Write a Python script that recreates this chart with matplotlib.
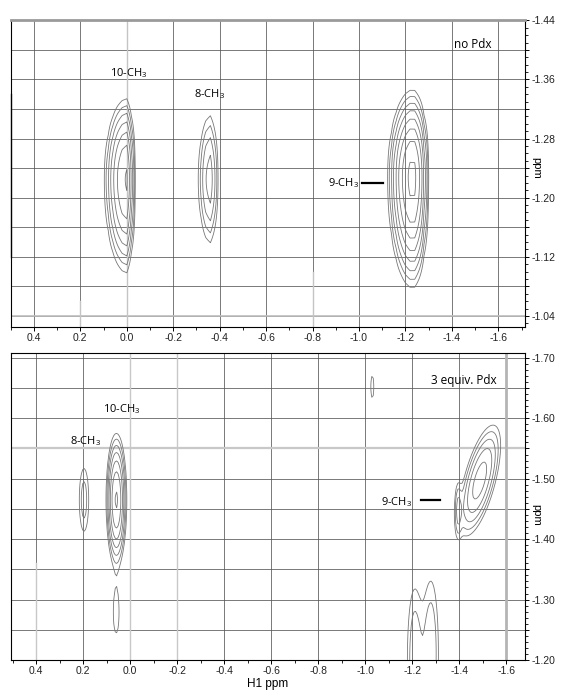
import numpy as np
import matplotlib
matplotlib.use("Agg")
import matplotlib.pyplot as plt
from matplotlib.ticker import MultipleLocator, FuncFormatter

plt.rcParams['font.family'] = ['Liberation Sans', 'DejaVu Sans']
plt.rcParams['mathtext.default'] = 'regular'

# contour levels, geometric like the spectrometer software
levels = [1.0, 1.5, 2.25, 3.375, 5.06, 7.59, 11.39, 17.09, 25.6]

# top panel (no Pdx): peak centre, height and half widths
# sx_pos = width towards +ppm, sy_up = width towards more negative ppm
top_x0 = [0.0, -0.36, -1.232]
top_y0 = [-1.225, -1.225, -1.228]
top_amp = [11.8, 4.13, 19.3]
top_sx_pos = [0.043, 0.030, 0.044]
top_sx_neg = [0.0144, 0.018, 0.028]
top_sy_up = [0.049, 0.051, 0.0485]
top_sy_dn = [0.057, 0.051, 0.0617]
top_shear = [0.0, 0.0, 0.0]

# bottom panel (3 equiv. Pdx)
bot_x0 = [0.059, 0.197, 0.06, -1.03, -0.61, -1.487, -1.395, -1.21, -1.28]
bot_y0 = [-1.465, -1.465, -1.278, -1.652, -1.481, -1.497, -1.45, -1.20, -1.21]
bot_amp = [11.8, 1.84, 1.3, 1.2, 1.03, 6.2, 2.0, 2.1, 2.2]
bot_sx_pos = [0.0198, 0.018, 0.0166, 0.011, 0.006, 0.036, 0.01, 0.025, 0.025]
bot_sx_neg = [0.0198, 0.018, 0.0166, 0.011, 0.006, 0.036, 0.01, 0.025, 0.025]
bot_sy_up = [0.0495, 0.047, 0.046, 0.03, 0.006, 0.048, 0.03, 0.095, 0.095]
bot_sy_dn = [0.0495, 0.047, 0.046, 0.03, 0.006, 0.048, 0.03, 0.095, 0.095]
bot_shear = [0.0, 0.0, 0.0, 0.0, 0.0, 0.62, 0.0, 0.0, 0.0]

# labels
top_labels = ['10-CH$_3$', '8-CH$_3$', '9-CH$_3$']
top_lab_x = [-0.008, -0.358, -0.934]
top_lab_y = [-1.368, -1.340, -1.220]
bot_labels = ['10-CH$_3$', '8-CH$_3$', '9-CH$_3$']
bot_lab_x = [0.038, 0.192, -1.135]
bot_lab_y = [-1.615, -1.563, -1.461]


def surface(X, Y, x0, y0, amp, sxp, sxn, syu, syd, shear):
    Z = np.zeros_like(X)
    for i in range(len(x0)):
        dy = Y - y0[i]
        dx = X - x0[i] - shear[i] * dy
        sx = np.where(dx > 0, sxp[i], sxn[i])
        sy = np.where(dy < 0, syu[i], syd[i])
        Z += amp[i] * np.exp(-0.5 * ((dx / sx) ** 2 + (dy / sy) ** 2))
    return Z


def xfmt(v, pos):
    if abs(v) < 1e-9:
        return '0.0'
    return f'{v:.1f}'


def style_axes(ax, ystep, ylab_every):
    ax.xaxis.set_major_locator(MultipleLocator(0.2))
    ax.xaxis.set_minor_locator(MultipleLocator(0.1))
    ax.xaxis.set_major_formatter(FuncFormatter(xfmt))
    ax.yaxis.set_major_locator(MultipleLocator(ystep))
    ax.yaxis.set_minor_locator(MultipleLocator(0.01))
    ax.yaxis.set_major_formatter(FuncFormatter(
        lambda v, p: f'{v:.2f}' if round(v / ystep) % ylab_every == 0 else ''))
    ax.yaxis.tick_right()
    ax.tick_params(which='major', direction='out', length=3, width=0.7,
                   labelsize=7.5, labelcolor='#222222', pad=1.5)
    ax.tick_params(which='minor', direction='out', length=2, width=0.6)
    ax.grid(True, which='major', color='#555555', lw=0.55)
    ax.set_axisbelow(True)
    for s in ax.spines.values():
        s.set_linewidth(0.8)


fig = plt.figure(figsize=(5.61, 6.90), dpi=100)
W, H = 561, 690
ax1 = fig.add_axes([10.7 / W, 1 - 327 / H, (525 - 10.7) / W, (327 - 20) / H])
ax2 = fig.add_axes([10.7 / W, 1 - 660 / H, (525 - 10.7) / W, (660 - 353) / H])

# ---- top panel (coarse direct dimension, as in the processed spectrum)
xg1 = np.round(np.arange(-1.86, 0.66, 0.02), 3)
yg1 = np.arange(-1.50, -0.98, 0.003)
X1, Y1 = np.meshgrid(xg1, yg1)
Z1 = surface(X1, Y1, top_x0, top_y0, top_amp, top_sx_pos, top_sx_neg,
             top_sy_up, top_sy_dn, top_shear)
ax1.contour(X1, Y1, Z1, levels=levels, colors='#777777', linewidths=0.6, zorder=3)
ax1.set_xlim(0.50, -1.715)
ax1.set_ylim(-1.025, -1.4405)
style_axes(ax1, 0.04, 2)
ax1.spines['top'].set_color('#9a9a9a')
ax1.spines['top'].set_linewidth(2)
ax1.axhline(-1.04, color='#bdbdbd', lw=1.2, zorder=1.5)
ax1.axvline(0.0, color='#c4c4c4', lw=1.0, zorder=1.5)
ax1.plot([0.2, 0.2], [-1.06, -1.025], color='#c4c4c4', lw=1.0, zorder=1.5)
ax1.plot([-0.8, -0.8], [-1.10, -1.025], color='#c4c4c4', lw=1.0, zorder=1.5)
ax1.plot([0.499, 0.499], [-1.34, -1.12], color='#333333', lw=1.0, clip_on=False)

for t, x, y in zip(top_labels, top_lab_x, top_lab_y):
    ax1.text(x, y, t, ha='center', va='center', fontsize=8, family='Open Sans')
ax1.plot([-1.015, -1.103], [-1.22, -1.22], color='black', lw=1.6)
ax1.text(-1.492, -1.407, 'no Pdx', ha='center', va='center', fontsize=8.5,
         family='Open Sans')
ax1.text(1.022, -1.24, 'ppm', rotation=270, ha='center', va='center', fontsize=8,
         transform=ax1.get_yaxis_transform())

# ---- bottom panel
xg2 = np.round(np.arange(-1.85, 0.65, 0.006), 4)
yg2 = np.arange(-1.76, -1.14, 0.003)
X2, Y2 = np.meshgrid(xg2, yg2)
Z2 = surface(X2, Y2, bot_x0, bot_y0, bot_amp, bot_sx_pos, bot_sx_neg,
             bot_sy_up, bot_sy_dn, bot_shear)
ax2.contour(X2, Y2, Z2, levels=levels, colors='#777777', linewidths=0.6, zorder=3)
ax2.set_xlim(0.509, -1.68)
ax2.set_ylim(-1.20, -1.708)
style_axes(ax2, 0.05, 2)
ax2.axhline(-1.55, color='#c8c8c8', lw=1.6, zorder=1.5)
ax2.axvline(0.0, color='#c8c8c8', lw=1.0, zorder=1.5)
ax2.axvline(-0.2, color='#c8c8c8', lw=1.0, zorder=1.5)
ax2.axvline(-1.6, color='#b4b4b4', lw=2.0, zorder=1.5)
ax2.plot([0.4, 0.4], [-1.36, -1.20], color='#c8c8c8', lw=1.0, zorder=1.5)

for t, x, y in zip(bot_labels, bot_lab_x, bot_lab_y):
    ax2.text(x, y, t, ha='center', va='center', fontsize=8, family='Open Sans')
ax2.plot([-1.236, -1.32], [-1.464, -1.464], color='black', lw=1.6)
ax2.text(-1.418, -1.662, '3 equiv. Pdx', ha='center', va='center', fontsize=8.5,
         family='Open Sans')
ax2.text(1.022, -1.44, 'ppm', rotation=270, ha='center', va='center', fontsize=8,
         transform=ax2.get_yaxis_transform())

pos = ax2.get_position()
fig.text((pos.x0 + pos.x1) / 2, 0.5 / H, 'H1 ppm', ha='center', va='bottom',
         fontsize=8.5)

fig.savefig('out.png', dpi=100)
